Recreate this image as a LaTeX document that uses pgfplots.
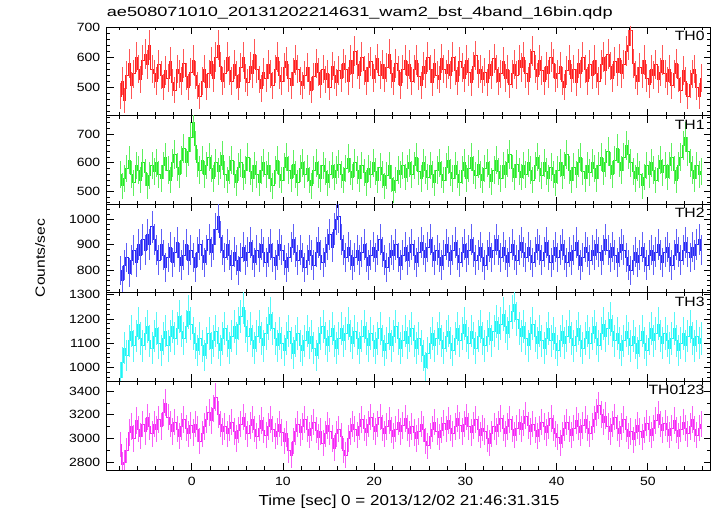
\documentclass[border=0pt]{standalone}
\usepackage{pgfplots}
\pgfplotsset{compat=1.18}
\usepackage{pgfplotstable}
\usepackage{fontspec}
\setmainfont[FakeStretch=1.17]{Liberation Sans}
\newfontfamily\titlefont[FakeStretch=1.36]{Liberation Sans}
\definecolor{cR}{RGB}{255,30,30}
\definecolor{cG}{RGB}{40,235,40}
\definecolor{cB}{RGB}{40,40,245}
\definecolor{cC}{RGB}{30,245,245}
\definecolor{cM}{RGB}{245,40,245}

\pgfplotstableread[row sep=\\]{y\\
470\\520\\455\\540\\580\\505\\545\\600\\560\\525\\590\\610\\575\\640\\560\\545\\
520\\575\\540\\500\\555\\530\\585\\515\\490\\560\\545\\520\\580\\535\\500\\550\\
590\\540\\505\\470\\520\\560\\500\\545\\585\\530\\600\\640\\570\\520\\545\\600\\
555\\520\\575\\540\\500\\565\\600\\530\\515\\570\\545\\610\\560\\525\\495\\550\\
530\\575\\545\\505\\560\\600\\540\\520\\565\\585\\530\\505\\550\\590\\560\\520\\
505\\540\\565\\520\\490\\535\\580\\550\\510\\560\\525\\545\\500\\570\\540\\515\\
555\\530\\580\\560\\520\\590\\545\\620\\575\\540\\600\\555\\520\\565\\585\\530\\
560\\595\\540\\575\\530\\565\\610\\545\\520\\580\\555\\505\\560\\590\\540\\575\\
520\\560\\590\\535\\505\\570\\545\\600\\560\\515\\580\\540\\525\\595\\560\\545\\
575\\540\\600\\555\\520\\585\\565\\530\\590\\550\\515\\570\\605\\545\\560\\525\\
550\\515\\575\\540\\595\\560\\520\\545\\585\\530\\560\\510\\545\\575\\540\\590\\
565\\600\\545\\520\\580\\620\\560\\535\\590\\555\\520\\570\\545\\600\\580\\530\\
545\\570\\520\\500\\555\\590\\530\\560\\515\\580\\545\\600\\560\\520\\575\\540\\
590\\545\\520\\575\\600\\555\\610\\570\\530\\585\\550\\595\\545\\575\\620\\640\\
690\\580\\540\\520\\565\\545\\590\\530\\510\\560\\540\\575\\525\\550\\590\\545\\
520\\560\\505\\545\\580\\530\\490\\555\\520\\470\\510\\545\\560\\500\\470\\530\\
}\tA

\pgfplotstableread[row sep=\\]{y\\
560\\520\\545\\580\\610\\560\\530\\590\\575\\540\\600\\565\\520\\555\\590\\570\\
600\\560\\545\\590\\620\\575\\540\\600\\630\\585\\560\\610\\650\\600\\640\\690\\
740\\660\\600\\575\\610\\560\\590\\620\\580\\545\\600\\570\\590\\625\\560\\540\\
575\\610\\560\\530\\585\\600\\550\\575\\620\\570\\545\\590\\560\\530\\575\\600\\
560\\590\\545\\520\\575\\610\\560\\540\\585\\620\\575\\545\\595\\560\\530\\580\\
600\\560\\580\\540\\520\\575\\600\\560\\545\\590\\570\\530\\560\\590\\550\\575\\
595\\560\\540\\580\\615\\570\\550\\600\\575\\545\\590\\565\\530\\580\\560\\600\\
570\\540\\585\\560\\520\\555\\590\\545\\505\\540\\575\\560\\590\\550\\580\\600\\
560\\590\\620\\570\\545\\600\\575\\550\\590\\560\\530\\575\\600\\560\\540\\585\\
610\\565\\545\\590\\560\\530\\575\\600\\545\\580\\620\\575\\555\\595\\560\\540\\
580\\600\\560\\535\\575\\610\\570\\545\\590\\560\\600\\630\\580\\550\\595\\570\\
550\\590\\560\\600\\575\\540\\590\\620\\580\\555\\600\\570\\545\\585\\560\\530\\
575\\600\\555\\590\\630\\575\\540\\585\\560\\600\\620\\570\\545\\590\\565\\600\\
580\\545\\590\\620\\570\\600\\640\\590\\560\\610\\650\\600\\575\\620\\660\\630\\
600\\570\\545\\585\\560\\520\\550\\590\\560\\600\\575\\540\\580\\610\\565\\590\\
550\\590\\620\\575\\540\\590\\620\\660\\690\\640\\600\\575\\545\\590\\560\\570\\
}\tB

\pgfplotstableread[row sep=\\]{y\\
800\\760\\820\\850\\790\\840\\880\\830\\900\\860\\920\\880\\940\\900\\970\\920\\
880\\840\\900\\860\\810\\850\\890\\830\\870\\910\\850\\820\\860\\900\\840\\880\\
850\\810\\870\\900\\860\\830\\880\\920\\870\\900\\960\\1010\\930\\880\\850\\900\\
860\\820\\870\\840\\800\\850\\890\\840\\870\\910\\860\\830\\880\\850\\900\\870\\
830\\870\\900\\850\\820\\860\\900\\880\\840\\810\\850\\890\\920\\870\\840\\880\\
850\\810\\840\\880\\860\\820\\870\\910\\860\\830\\870\\900\\940\\890\\960\\1000\\
1010\\920\\880\\850\\890\\860\\820\\850\\880\\840\\870\\900\\850\\820\\860\\890\\
850\\880\\920\\870\\840\\810\\850\\880\\860\\900\\850\\820\\860\\890\\840\\870\\
900\\860\\830\\870\\910\\880\\850\\890\\920\\870\\840\\880\\850\\820\\860\\900\\
870\\840\\880\\910\\860\\830\\870\\900\\850\\880\\920\\870\\840\\860\\890\\850\\
820\\860\\890\\850\\880\\920\\880\\850\\890\\860\\830\\870\\900\\860\\840\\880\\
910\\870\\850\\890\\860\\830\\870\\900\\880\\840\\870\\910\\860\\830\\860\\890\\
850\\880\\900\\860\\830\\870\\840\\880\\910\\860\\820\\850\\890\\870\\840\\880\\
860\\900\\870\\840\\880\\920\\880\\850\\890\\860\\830\\870\\900\\880\\850\\820\\
800\\840\\870\\830\\860\\890\\850\\820\\860\\880\\840\\870\\900\\860\\830\\870\\
890\\850\\820\\860\\900\\870\\840\\880\\910\\870\\850\\890\\860\\900\\920\\880\\
}\tC

\pgfplotstableread[row sep=\\]{y\\
960\\1020\\1080\\1050\\1110\\1150\\1090\\1130\\1180\\1120\\1090\\1140\\1170\\1110\\1080\\1130\\
1160\\1100\\1070\\1120\\1150\\1090\\1130\\1170\\1120\\1160\\1210\\1150\\1120\\1170\\1230\\1180\\
1140\\1100\\1070\\1120\\1090\\1050\\1100\\1140\\1080\\1110\\1150\\1100\\1070\\1120\\1160\\1110\\
1080\\1130\\1170\\1120\\1180\\1210\\1250\\1170\\1130\\1160\\1110\\1080\\1130\\1170\\1120\\1090\\
1140\\1180\\1220\\1160\\1120\\1090\\1140\\1100\\1070\\1120\\1150\\1100\\1060\\1110\\1140\\1090\\
1070\\1110\\1150\\1100\\1130\\1080\\1050\\1100\\1140\\1170\\1120\\1090\\1130\\1160\\1110\\1080\\
1120\\1160\\1110\\1140\\1180\\1130\\1100\\1150\\1120\\1080\\1130\\1170\\1120\\1090\\1140\\1110\\
1080\\1120\\1160\\1110\\1070\\1100\\1140\\1090\\1130\\1170\\1120\\1080\\1110\\1150\\1100\\1130\\
1160\\1110\\1080\\1120\\1090\\1050\\1000\\1060\\1100\\1140\\1090\\1120\\1160\\1110\\1080\\1130\\
1150\\1100\\1070\\1120\\1160\\1110\\1140\\1180\\1130\\1100\\1150\\1120\\1080\\1130\\1170\\1120\\
1090\\1130\\1160\\1110\\1150\\1190\\1140\\1180\\1220\\1170\\1140\\1190\\1230\\1260\\1200\\1160\\
1130\\1170\\1120\\1090\\1140\\1180\\1130\\1100\\1150\\1110\\1080\\1120\\1160\\1110\\1140\\1100\\
1070\\1110\\1150\\1100\\1130\\1170\\1120\\1090\\1130\\1160\\1110\\1080\\1120\\1150\\1100\\1140\\
1170\\1120\\1090\\1140\\1180\\1130\\1160\\1200\\1150\\1110\\1140\\1100\\1070\\1110\\1150\\1120\\
1090\\1130\\1100\\1060\\1110\\1150\\1100\\1070\\1120\\1160\\1110\\1140\\1180\\1130\\1100\\1140\\
1110\\1080\\1120\\1160\\1110\\1070\\1100\\1140\\1090\\1130\\1170\\1120\\1090\\1130\\1100\\1120\\
}\tD

\pgfplotstableread[row sep=\\]{y\\
2950\\2780\\2800\\2900\\3050\\3100\\3000\\3150\\3080\\3020\\3120\\3060\\3180\\3100\\3040\\3120\\
3080\\3160\\3100\\3220\\3300\\3180\\3120\\3060\\3140\\3080\\3020\\3100\\3160\\3090\\3040\\3110\\
3050\\3120\\3080\\2980\\3040\\3100\\3160\\3220\\3150\\3250\\3350\\3200\\3120\\3060\\3100\\3040\\
3090\\3140\\3060\\3000\\3070\\3120\\3180\\3100\\3040\\3110\\3160\\3080\\3020\\3090\\3150\\3070\\
3030\\3100\\3160\\3080\\3020\\3060\\3120\\3050\\2980\\3040\\2900\\2860\\2980\\3060\\3120\\3050\\
3100\\3160\\3080\\3030\\3090\\3140\\3070\\3010\\3060\\2960\\3040\\3110\\3060\\3000\\2920\\3040\\
3080\\3020\\2900\\2860\\3000\\3060\\3120\\3080\\3030\\3100\\3160\\3090\\3050\\3120\\3180\\3100\\
3060\\3120\\3180\\3090\\3040\\3100\\3150\\3070\\3020\\3080\\3140\\3060\\3110\\3170\\3090\\3040\\
3100\\3050\\3000\\3060\\3120\\3080\\2980\\2940\\3020\\3080\\3140\\3060\\3010\\3070\\3130\\3080\\
3150\\3090\\3040\\3100\\3170\\3110\\3060\\3120\\3180\\3100\\3050\\3110\\3160\\3080\\3030\\3090\\
3060\\3000\\2960\\3040\\3100\\3060\\3120\\3170\\3090\\3040\\3100\\3160\\3080\\3030\\3090\\3140\\
3080\\3130\\3190\\3110\\3060\\3120\\3070\\3020\\3080\\3140\\3100\\3050\\3110\\3170\\3090\\3040\\
3010\\2960\\3030\\3090\\3140\\3080\\3030\\3090\\3150\\3100\\3050\\3110\\3160\\3090\\3040\\3100\\
3160\\3220\\3280\\3200\\3140\\3190\\3100\\3060\\3120\\3180\\3090\\3040\\3100\\3160\\3080\\3020\\
3060\\2990\\3050\\3110\\3060\\3010\\3070\\3130\\3080\\3030\\3090\\3150\\3200\\3120\\3070\\3130\\
3080\\3030\\3090\\3150\\3070\\3020\\3080\\3140\\3090\\3040\\3100\\3160\\3080\\3030\\3090\\3120\\
}\tE

\pgfplotsset{
  panel/.style={
    scale only axis, width=604bp, height=88.6bp, anchor=south west,
    xmin=-9.33, xmax=56.9,
    xtick={0,10,...,50}, minor xtick={-8,-6,...,56},
    xticklabels={},
    axis line style={line width=0.8pt, black},
    every tick/.style={black, line width=0.6pt},
    major tick length=7bp, minor tick length=3.5bp,
    tick align=inside, tick pos=both,
    scaled y ticks=false,
    /pgf/number format/1000 sep={},
    /pgf/number format/assume math mode=true,
    tick label style={font=\fontsize{12}{13}\selectfont},
    yticklabel style={xshift=-3bp},
    xticklabel style={yshift=-4bp},
    clip=true,
  },
  lc/.style={#1, const plot mark mid, line width=0.55pt,
    error bars/.cd, y dir=both, y explicit, error mark=none,
    error bar style={line width=0.7pt, #1!75!white}},
}
\newcommand{\lab}[1]{\node[anchor=north east, font=\fontsize{13.5}{14}\selectfont, inner sep=0pt] at (rel axis cs:1,1) [xshift=-6bp, yshift=-4bp] {#1};}

\begin{document}
\begin{tikzpicture}
\path[use as bounding box] (0,0) rectangle (717bp,516bp);

\begin{axis}[panel, at={(106.7bp,400.4bp)}, ymin=405, ymax=700,
  ytick={500,600,700}, minor ytick={420,440,...,700}]
\addplot[lc=cR] table[x expr=\coordindex*0.25-7.875, y=y, y error expr=2*sqrt(\thisrow{y})] \tA;
\lab{TH0}
\end{axis}

\begin{axis}[panel, at={(106.7bp,311.8bp)}, ymin=455, ymax=765,
  ytick={500,600,700}, minor ytick={460,480,...,760}]
\addplot[lc=cG] table[x expr=\coordindex*0.25-7.875, y=y, y error expr=2*sqrt(\thisrow{y})] \tB;
\lab{TH1}
\end{axis}

\begin{axis}[panel, at={(106.7bp,223.2bp)}, ymin=712, ymax=1058,
  ytick={800,900,1000}, minor ytick={720,740,...,1040}]
\addplot[lc=cB] table[x expr=\coordindex*0.25-7.875, y=y, y error expr=2*sqrt(\thisrow{y})] \tC;
\lab{TH2}
\end{axis}

\begin{axis}[panel, at={(106.7bp,134.6bp)}, ymin=942, ymax=1308,
  ytick={1000,1100,1200,1300}, minor ytick={960,980,...,1300}]
\addplot[lc=cC] table[x expr=\coordindex*0.25-7.875, y=y, y error expr=2*sqrt(\thisrow{y})] \tD;
\lab{TH3}
\end{axis}

\begin{axis}[panel, at={(106.7bp,46bp)}, ymin=2735, ymax=3480,
  ytick={2800,3000,3200,3400}, minor ytick={2800,2900,...,3400},
  xticklabels={0,10,20,30,40,50}]
\addplot[lc=cM] table[x expr=\coordindex*0.25-7.875, y=y, y error expr=2*sqrt(\thisrow{y})] \tE;
\lab{TH0123}
\end{axis}

\node[anchor=base west, inner sep=0pt, font=\titlefont\fontsize{13.4}{14}\selectfont] at (106.7bp,499.5bp) {ae508071010\_20131202214631\_wam2\_bst\_4band\_16bin.qdp};
\node[rotate=90, inner sep=0pt, font=\fontsize{13.4}{14}\selectfont] at (40bp,258bp) {Counts/sec};
\node[inner sep=0pt, font=\fontsize{14.6}{15}\selectfont] at (409bp,14.5bp) {Time [sec] 0 = 2013/12/02 21:46:31.315};
\end{tikzpicture}
\end{document}
